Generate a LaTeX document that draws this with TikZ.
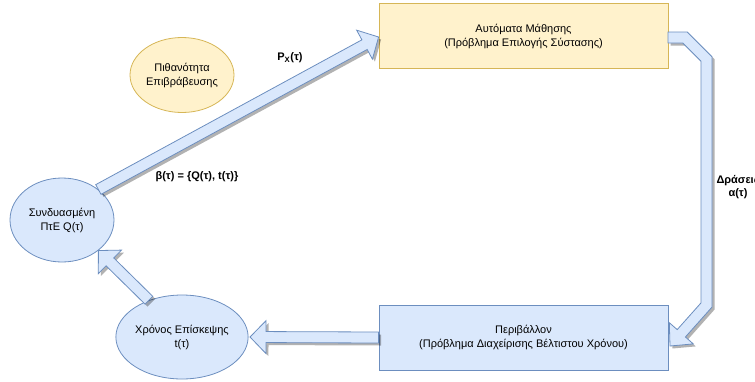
\documentclass[tikz,border=0pt]{standalone}
\usepackage{fontspec}
\setmainfont{Liberation Sans}
\usetikzlibrary{shapes.geometric,calc,shadows}
\definecolor{bfill}{HTML}{DAE8FC}
\definecolor{bline}{HTML}{6C8EBF}
\definecolor{yfill}{HTML}{FFF2CC}
\definecolor{yline}{HTML}{D6B656}
\tikzset{
  txt/.style={font=\fontsize{11}{14}\selectfont, align=center},
  bluebox/.style={txt, draw=bline, fill=bfill, line width=0.8pt, minimum width=289pt, minimum height=65pt, inner sep=0pt},
  yellowbox/.style={txt, draw=yline, fill=yfill, line width=0.8pt, minimum width=289pt, minimum height=65pt, inner sep=0pt},
  blueell/.style={txt, ellipse, draw=bline, fill=bfill, line width=0.8pt, minimum width=104pt, minimum height=84pt, inner sep=0pt},
  yellowell/.style={txt, ellipse, draw=yline, fill=yfill, line width=0.8pt, minimum width=104pt, minimum height=75pt, inner sep=0pt},
  lbl/.style={font=\fontsize{11}{13}\selectfont\bfseries, align=center},
  flex/.style={draw=bline, fill=bfill, line width=0.8pt, line join=miter,
    drop shadow={shadow xshift=2.5pt, shadow yshift=-2.5pt, opacity=0.3, fill=black}},
}
\newcommand\flexarrow[2]{%
  \draw[flex] let \p1=(#1), \p2=(#2),
      \n1={atan2(\y2-\y1,\x2-\x1)}, \n2={veclen(\x2-\x1,\y2-\y1)} in
    ($(\p1)+(\n1+90:5.5pt)$) -- ($(\p1)+(\n1+90:5.5pt)+(\n1:\n2-16pt)$)
    -- ($(\p1)+(\n1+90:16.5pt)+(\n1:\n2-16pt)$) -- (\p2)
    -- ($(\p1)+(\n1-90:16.5pt)+(\n1:\n2-16pt)$)
    -- ($(\p1)+(\n1-90:5.5pt)+(\n1:\n2-16pt)$)
    -- ($(\p1)+(\n1-90:5.5pt)$) -- cycle;}
\begin{document}
\begin{tikzpicture}[x=1pt, y=-1pt]
\path[use as bounding box] (0,0) rectangle (755,381);

\node[yellowbox] (learn) at (523.5,36) {Αυτόματα Μάθησης\\(Πρόβλημα Επιλογής Σύστασης)};
\node[bluebox] (env) at (523.5,337.5) {Περιβάλλον\\(Πρόβλημα Διαχείρισης Βέλτιστου Χρόνου)};
\node[blueell] (syn) at (62,220) {Συνδυασμένη\\ΠτΕ Q(τ)};
\node[blueell] (time) at (182,337) {Χρόνος Επίσκεψης\\t(τ)};
\node[yellowell] (rew) at (182,75) {Πιθανότητα\\Επιβράβευσης};

% arrow 1: syn -> learn
\coordinate (a1s) at (syn.40);
\coordinate (a1e) at ($(learn.west)+(0,1)$);
\flexarrow{a1s}{a1e}

% arrow 3: env -> time
\coordinate (a3s) at (env.west);
\coordinate (a3e) at ($(time.east)+(1.5,0)$);
\flexarrow{a3s}{a3e}

% arrow 4: time -> syn
\coordinate (a4s) at (time.132);
\coordinate (a4e) at (syn.-40);
\flexarrow{a4s}{a4e}

% arrow 2: learn -> env (bent)
\draw[flex] (668,32) -- (687.3,32) -- (712,56.7) -- (712,307.1) -- (685.4,337.0)
  -- (693.3,343.9) -- (670,346) -- (669.3,322.7) -- (677.2,329.6)
  -- (701,302.9) -- (701,61.3) -- (682.7,43) -- (668,43) -- cycle;

\node[lbl] (px) at (290,58) {P\textsubscript{X}(τ)};
\node[lbl] (beta) at (197,177) {β(τ) = \{Q(τ), t(τ)\}};
\node[lbl] (act) at (738,187) {Δράσεις\\α(τ)};
\end{tikzpicture}
\end{document}
